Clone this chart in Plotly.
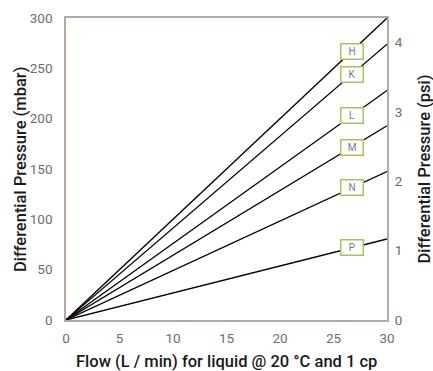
import plotly.graph_objects as go

flow = [0, 30]
series_names = ["H", "K", "L", "M", "N", "P"]
dp_at_30 = [300, 274, 228, 193, 147.5, 80.5]
label_flow = 26.7
x_ticks = [0, 5, 10, 15, 20, 25, 30]
y_ticks = [0, 50, 100, 150, 200, 250, 300]
psi_ticks = [0, 1, 2, 3, 4]
MBAR_PER_PSI = 68.9476

frame = "#b3ab9e"
tickc = "#6d6d6d"
font = "Roboto"
title_font = dict(family=font, size=16.5, color="#1a1a1a", weight=500)

fig = go.Figure()
for name, v in zip(series_names, dp_at_30):
    fig.add_trace(go.Scatter(x=flow, y=[0, v], mode="lines",
                             line=dict(color="black", width=1.3),
                             name=name, showlegend=False, hoverinfo="skip"))
# invisible trace to activate the psi axis
fig.add_trace(go.Scatter(x=[0], y=[0], yaxis="y2", mode="markers",
                         marker=dict(opacity=0), showlegend=False, hoverinfo="skip"))

for name, v in zip(series_names, dp_at_30):
    fig.add_annotation(x=label_flow, y=v * label_flow / flow[1], text=name,
                       showarrow=False, bgcolor="white", bordercolor="#9cc85e",
                       borderwidth=1.5, width=18, height=11, borderpad=1.5,
                       font=dict(family=font, size=10, color="#7a7a7a"))

# axis titles
fig.add_annotation(xref="paper", yref="paper", x=0.5, y=-0.139, text="Flow (L / min) for liquid @ 20 °C and 1 cp",
                   showarrow=False, xanchor="center", yanchor="middle", font=title_font)
fig.add_annotation(xref="paper", yref="paper", x=-0.143, y=0.5, text="Differential Pressure (mbar)",
                   showarrow=False, textangle=-90, xanchor="center", yanchor="middle", font=title_font)
fig.add_annotation(xref="paper", yref="paper", x=1.114, y=0.5, text="Differential Pressure (psi)",
                   showarrow=False, textangle=-90, xanchor="center", yanchor="middle", font=title_font)

fig.update_layout(
    width=433, height=371,
    margin=dict(l=66, r=46, t=18, b=51),
    plot_bgcolor="white", paper_bgcolor="white",
    xaxis=dict(range=[0, 30], tickvals=x_ticks, showgrid=False, zeroline=False,
               showline=True, linecolor=frame, linewidth=1.5, mirror=True,
               ticks="outside", ticklen=5, tickcolor="rgba(0,0,0,0)", automargin=False,
               tickfont=dict(family=font, size=13.5, color=tickc)),
    yaxis=dict(range=[0, 300], tickvals=y_ticks, showgrid=False, zeroline=False,
               showline=True, linecolor=frame, linewidth=1.5, mirror=True,
               ticks="outside", ticklen=9, tickcolor="rgba(0,0,0,0)", automargin=False,
               tickfont=dict(family=font, size=13.5, color=tickc)),
    yaxis2=dict(range=[0, 300 / MBAR_PER_PSI], tickvals=psi_ticks, overlaying="y",
                side="right", showgrid=False, zeroline=False, showline=False,
                ticks="outside", ticklen=4, tickcolor="rgba(0,0,0,0)", automargin=False,
                tickfont=dict(family=font, size=13.5, color=tickc)),
)

fig.write_html("out.html", config={"displayModeBar": False},
               post_script="document.body.style.margin='0';")
